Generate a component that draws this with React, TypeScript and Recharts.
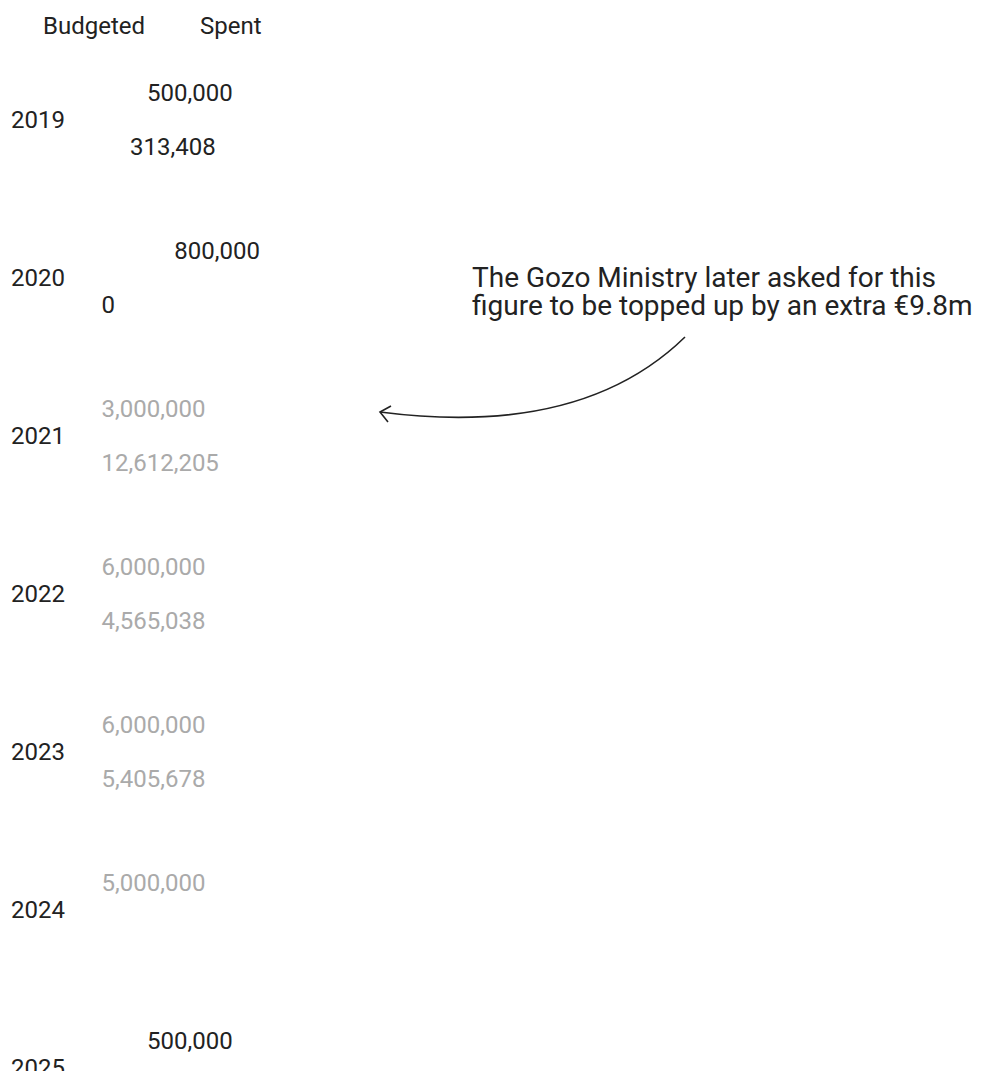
import React from 'react';
import { BarChart, Bar, XAxis, YAxis, Legend, LabelList, Customized } from 'recharts';

const years = ['2019', '2020', '2021', '2022', '2023', '2024', '2025'];
const budgeted = [500000, 800000, 3000000, 6000000, 6000000, 5000000, 500000];
const spent: (number | null)[] = [313408, 0, 12612205, 4565038, 5405678, null, null];
const seriesNames = ['Budgeted', 'Spent'];
const annotationLines = [
  'The Gozo Ministry later asked for this',
  'figure to be topped up by an extra €9.8m.',
];

const data = years.map((y, i) => ({ year: y, budgeted: budgeted[i], spent: spent[i] }));

const FONT = 'Roboto, sans-serif';
const DARK = '#222222';
const GREY = '#aaaaaa';

const ValueLabel = (props: any) => {
  const { x, y, width, height, value } = props;
  if (value === null || value === undefined) return null;
  const text = Number(value).toLocaleString('en-US');
  const w = Number(value) === 0 ? 0 : width;
  const inside = w > 120;
  const tx = inside ? x + 1.5 : x + w + 1.5;
  return (
    <text
      x={tx}
      y={y + height / 2}
      dominantBaseline="central"
      textAnchor="start"
      fontFamily={FONT}
      fontSize={24}
      fill={inside ? GREY : DARK}
    >
      {text}
    </text>
  );
};

const YearTick = (props: any) => {
  const { y, payload } = props;
  return (
    <text x={3} y={y} dominantBaseline="central" textAnchor="start" fontFamily={FONT} fontSize={24} fill={DARK}>
      {payload.value}
    </text>
  );
};

const LegendContent = (props: any) => {
  const payload = props.payload || [];
  const lefts = [35, 192];
  return (
    <div style={{ position: 'relative', height: 33, width: 400 }}>
      {payload.map((p: any, i: number) => (
        <span
          key={i}
          style={{
            position: 'absolute',
            left: lefts[i],
            top: 4,
            fontFamily: FONT,
            fontSize: 24,
            color: DARK,
            whiteSpace: 'nowrap',
          }}
        >
          {p.value}
        </span>
      ))}
    </div>
  );
};

const Annotation = () => (
  <g>
    <text fontFamily={FONT} fontSize={28} fill={DARK}>
      <tspan x={464} y={279}>{annotationLines[0]}</tspan>
      <tspan x={464} y={307}>{annotationLines[1]}</tspan>
    </text>
    <path d="M677,329 C592,412 472,417 372,404" fill="none" stroke={DARK} strokeWidth={1.6} />
    <path d="M383,398 L372,404 L380,414" fill="none" stroke={DARK} strokeWidth={1.6} />
  </g>
);

const minSize = (v: any) => (v === 0 ? 0.01 : 0);

export default function App() {
  return (
    <div style={{ width: 973, height: 1071, overflow: 'hidden', marginBottom: -8 }}>
      <BarChart
        width={973}
        height={1139}
        data={data}
        layout="vertical"
        margin={{ top: 0, right: 0, bottom: 0, left: 0 }}
        barSize={48}
        barGap={6}
      >
        <XAxis type="number" hide domain={[0, 9680000]} allowDataOverflow />
        <YAxis
          type="category"
          dataKey="year"
          width={92}
          axisLine={false}
          tickLine={false}
          tick={<YearTick />}
        />
        <Legend verticalAlign="top" align="left" content={<LegendContent />} />
        <Bar dataKey="budgeted" name={seriesNames[0]} fill="#ffffff" fillOpacity={0} isAnimationActive={false}>
          <LabelList dataKey="budgeted" content={<ValueLabel />} />
        </Bar>
        <Bar
          dataKey="spent"
          name={seriesNames[1]}
          fill="#ffffff"
          fillOpacity={0}
          minPointSize={minSize}
          isAnimationActive={false}
        >
          <LabelList dataKey="spent" content={<ValueLabel />} />
        </Bar>
        <Customized component={<Annotation />} />
      </BarChart>
    </div>
  );
}
